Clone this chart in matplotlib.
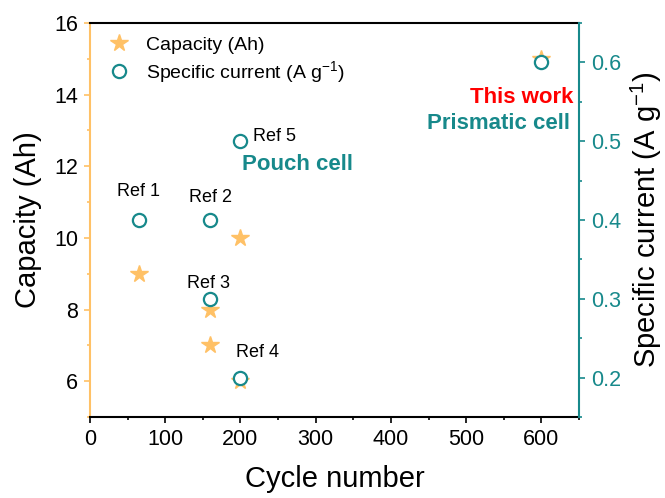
import matplotlib.pyplot as plt
import numpy as np

plt.rcParams['font.family'] = ['Liberation Sans', 'DejaVu Sans']
plt.rcParams['mathtext.fontset'] = 'custom'
plt.rcParams['mathtext.rm'] = 'Liberation Sans'
plt.rcParams['mathtext.default'] = 'regular'

orange = '#FFC166'
teal = '#17898B'

# capacity (Ah) vs cycle number
cap_cycles = [65, 160, 160, 200, 200, 600]
capacity = [9, 8, 7, 6, 10, 15]

# specific current (A g-1) vs cycle number
cur_cycles = [65, 160, 160, 200, 200, 600]
current = [0.4, 0.4, 0.3, 0.2, 0.5, 0.6]

ref_labels = ['Ref 1', 'Ref 2', 'Ref 3', 'Ref 4', 'Ref 5']

fig = plt.figure(figsize=(6.65, 4.98), dpi=100)
ax = fig.add_axes([0.1353, 0.1627, 0.7354, 0.7911])
ax2 = ax.twinx()

ax.plot(cap_cycles, capacity, ls='none', marker='*', ms=13, color=orange,
        mec=orange, label='Capacity (Ah)')
ax2.plot(cur_cycles, current, ls='none', marker='o', ms=9.5, mfc='white',
         mec=teal, mew=1.6, label='Specific current (A g$^{-1}$)')

ax.set_xlim(0, 650)
ax.set_ylim(5, 16)
ax2.set_ylim(0.15, 0.65)

ax.set_xticks(np.arange(0, 601, 100))
ax.set_xticks(np.arange(50, 651, 100), minor=True)
ax.set_yticks([6, 8, 10, 12, 14, 16])
ax.set_yticks([5, 7, 9, 11, 13, 15], minor=True)
ax2.set_yticks([0.2, 0.3, 0.4, 0.5, 0.6])
ax2.set_yticks([0.15, 0.25, 0.35, 0.45, 0.55, 0.65], minor=True)

for a in (ax, ax2):
    for s in a.spines.values():
        s.set_linewidth(1.5)
ax.spines['right'].set_visible(False)
ax2.spines['left'].set_visible(False)
ax2.spines['bottom'].set_visible(False)
ax2.spines['top'].set_visible(False)
ax.spines['left'].set_color(orange)
ax2.spines['right'].set_color(teal)

ax.tick_params(axis='x', which='major', direction='out', length=4.5, width=1.2,
               labelsize=15.5, pad=4)
ax.tick_params(axis='x', which='minor', direction='out', length=2.5, width=1.2)
ax.tick_params(axis='y', which='both', color=orange, width=1.2)
ax.tick_params(axis='y', which='major', length=4.5, labelsize=15.5, pad=4)
ax.tick_params(axis='y', which='minor', length=2.5)
ax2.tick_params(axis='y', which='both', color=teal, labelcolor=teal, width=1.2)
ax2.tick_params(axis='y', which='major', length=4.5, labelsize=15.5, pad=4)
ax2.tick_params(axis='y', which='minor', length=2.5)

ax.set_xlabel('Cycle number', fontsize=21, labelpad=11)
ax.set_ylabel('Capacity (Ah)', fontsize=21, labelpad=9)
ax2.set_ylabel('Specific current (A g$^{-1}$)', fontsize=21, labelpad=6)

# reference labels next to the specific current markers
ax2.text(cur_cycles[0], current[0] + 0.036, ref_labels[0], fontsize=13,
         ha='center', va='center')
ax2.text(cur_cycles[1], current[1] + 0.028, ref_labels[1], fontsize=13,
         ha='center', va='center')
ax2.text(cur_cycles[2] - 3, current[2] + 0.02, ref_labels[2], fontsize=13,
         ha='center', va='center')
ax2.text(cur_cycles[3] + 23, current[3] + 0.032, ref_labels[3], fontsize=13,
         ha='center', va='center')
ax2.text(cur_cycles[4] + 17, current[4] + 0.006, ref_labels[4], fontsize=13,
         ha='left', va='center')
ax2.text(cur_cycles[4] + 2, current[4] - 0.029, 'Pouch cell', fontsize=16,
         fontweight='bold', color=teal, ha='left', va='center')
ax2.text(642, current[5] - 0.044, 'This work', fontsize=16,
         fontweight='bold', color='#FF0000', ha='right', va='center')
ax2.text(638, current[5] - 0.078, 'Prismatic cell', fontsize=16,
         fontweight='bold', color=teal, ha='right', va='center')

h1, l1 = ax.get_legend_handles_labels()
h2, l2 = ax2.get_legend_handles_labels()
ax2.legend(h1 + h2, l1 + l2, loc='upper left', frameon=False, fontsize=14,
           handletextpad=0.8, borderaxespad=0.3, labelspacing=0.25,
           handlelength=1.2, bbox_to_anchor=(0.008, 1.0))

fig.savefig('out.png', dpi=100)
